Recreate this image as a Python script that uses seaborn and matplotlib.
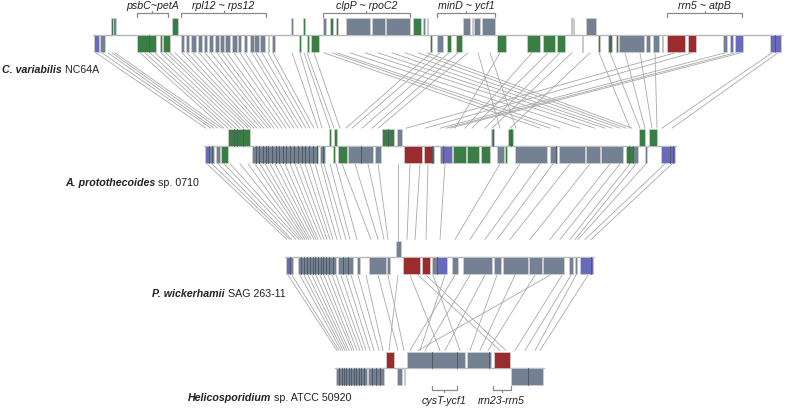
import matplotlib
matplotlib.use("Agg")
import matplotlib.pyplot as plt
import seaborn as sns
import pandas as pd

# ---------------- data ----------------
# genome tracks: species names
species_bold = ["C. variabilis", "A. protothecoides", "P. wickerhamii", "Helicosporidium"]
species_rest = [" NC64A", " sp. 0710", " SAG 263-11", " sp. ATCC 50920"]

# track extents (genome coordinate, scaled)
track_start = [93, 204, 285, 335]
track_end = [782, 676, 594, 544]

# gene blocks per track: (start, end, strand, class)  g=grey, G=green, r=red(rRNA), b=blue
t1_blocks = [
    (94, 98.5, -1, "b"), (99.5, 105, -1, "g"), (136.5, 149.3, -1, "G"), (149.3, 155.5, -1, "G"),
    (160, 162, -1, "G"), (163.3, 169.5, -1, "G"),
    (180.5, 183.5, -1, "g"), (185.5, 188.5, -1, "g"), (191, 195.5, -1, "g"), (197.5, 201.5, -1, "g"),
    (203.5, 207, -1, "g"), (209, 213, -1, "g"), (215, 218.5, -1, "g"), (219.5, 223.5, -1, "g"),
    (225, 229.5, -1, "g"), (231.5, 236.5, -1, "g"), (238, 241, -1, "g"), (243.5, 247, -1, "g"),
    (250, 253.5, -1, "g"), (254, 258.5, -1, "g"), (260, 265, -1, "g"), (267.5, 268.8, -1, "G"),
    (271.5, 275, -1, "g"),
    (299, 301, -1, "G"), (306.5, 308.5, -1, "G"), (310.5, 318.5, -1, "G"),
    (430, 432, -1, "G"), (437.3, 443.3, -1, "g"), (446.7, 450.7, -1, "G"), (456, 461.7, -1, "G"),
    (496.7, 505.7, -1, "G"), (527.3, 540, -1, "G"), (543.3, 555, -1, "G"), (556.7, 565, -1, "G"),
    (581.7, 583.3, -1, "g"), (598.3, 600, -1, "G"), (608.3, 610, -1, "G"), (610, 611.7, -1, "G"),
    (616, 617.7, -1, "G"), (618.7, 644, -1, "g"), (646, 650, -1, "g"), (652.7, 659.3, -1, "g"),
    (661.7, 663.3, -1, "G"), (667.3, 685, -1, "r"), (687.7, 696, -1, "r"), (723.3, 727.3, -1, "g"),
    (730, 733.3, -1, "b"), (735, 742.7, -1, "b"), (770, 775, -1, "b"), (775, 780.7, -1, "b"),
    (110.7, 112.7, 1, "G"), (113.3, 116.3, 1, "g"), (172.3, 178, 1, "G"), (291, 292.7, 1, "g"),
    (303, 304.7, 1, "G"), (322.7, 326, 1, "g"), (330, 333.3, 1, "G"), (335.7, 338.3, 1, "G"),
    (346, 370, 1, "g"), (371.7, 384.5, 1, "g"), (385.5, 410, 1, "g"), (413.3, 421.3, 1, "G"),
    (423.3, 425.3, 1, "g"), (426.7, 428.3, 1, "g"), (462.7, 470, 1, "g"), (471.7, 473.3, 1, "g"),
    (474.3, 480, 1, "g"), (481.7, 495, 1, "g"), (570.7, 572, 1, "G"), (572.5, 574, 1, "g"),
    (586, 596, 1, "g"),
]
t2_blocks = [
    (205, 209, -1, "b"), (209, 211.5, -1, "g"), (211.5, 214.3, -1, "g"), (215.7, 220, -1, "g"),
    (221, 227.7, -1, "G"),
    (252.3, 256, -1, "g"), (256, 259, -1, "g"), (259, 262.5, -1, "g"), (262.5, 266, -1, "g"),
    (266, 268, -1, "g"), (268, 272, -1, "g"), (272, 275.5, -1, "g"), (275.5, 279, -1, "g"),
    (279, 283, -1, "g"), (283, 286, -1, "g"), (286, 290, -1, "g"), (290, 294, -1, "g"),
    (294, 298, -1, "g"), (298, 301.5, -1, "g"), (301.5, 305, -1, "g"), (305, 309, -1, "g"),
    (309, 313, -1, "g"), (313, 316.5, -1, "g"), (316.5, 318.3, -1, "G"), (320, 322.5, -1, "g"),
    (322.5, 325, -1, "g"),
    (332.7, 335, -1, "G"), (337.7, 346.7, -1, "G"), (348.3, 361, -1, "g"), (361, 373.3, -1, "g"),
    (375, 381, -1, "g"), (404.3, 421.7, -1, "r"), (423.7, 432.3, -1, "r"), (432.3, 434, -1, "G"),
    (440, 443.3, -1, "g"), (443.3, 451.7, -1, "b"), (453.3, 466, -1, "G"), (466.7, 479.3, -1, "G"),
    (480.7, 490, -1, "G"), (497.3, 504, -1, "g"), (505, 506.7, -1, "G"), (515, 547.3, -1, "g"),
    (550, 555.5, -1, "g"), (555.5, 557.3, -1, "G"), (559.3, 585, -1, "g"), (585.7, 600, -1, "g"),
    (600.7, 622.7, -1, "g"), (626, 629, -1, "G"), (629, 633.3, -1, "G"), (633.3, 638.3, -1, "g"),
    (645, 646.7, -1, "g"), (660.7, 670, -1, "b"), (670, 673, -1, "b"), (673, 675, -1, "b"),
    (228.3, 233.5, 1, "G"), (233.5, 236.7, 1, "G"), (236.7, 243, 1, "G"), (243, 250, 1, "G"),
    (329, 331, 1, "G"), (334.3, 336.7, 1, "G"), (381.7, 388, 1, "G"), (388, 394.3, 1, "G"),
    (397, 401.7, 1, "g"), (490.7, 492.5, 1, "g"), (492.5, 494.3, 1, "G"), (508.3, 510.5, 1, "G"),
    (510.5, 513.3, 1, "G"), (639.3, 645, 1, "G"), (649.3, 657.3, 1, "G"),
]
t3_blocks = [
    (285.7, 289.5, -1, "b"), (289.5, 293.3, -1, "g"),
    (298.3, 301, -1, "g"), (301, 304, -1, "g"), (304, 307, -1, "g"), (307, 310, -1, "g"),
    (310, 312.5, -1, "g"), (312.5, 315, -1, "g"), (315, 318, -1, "g"), (318, 320.5, -1, "g"),
    (320.5, 323, -1, "g"), (323, 326, -1, "g"), (326, 329, -1, "g"), (329, 332.5, -1, "g"),
    (332.5, 336, -1, "g"), (338.3, 343, -1, "g"), (343, 348, -1, "g"), (348, 353.3, -1, "g"),
    (356.7, 360, -1, "g"), (369, 386, -1, "g"), (387.3, 390, -1, "g"),
    (403.3, 420, -1, "r"), (422.3, 430, -1, "r"), (431.7, 436.7, -1, "g"), (436.7, 447.3, -1, "b"),
    (451.7, 458.3, -1, "g"), (463.3, 491.7, -1, "g"), (494, 500.7, -1, "g"), (503.3, 528.3, -1, "g"),
    (529, 542.3, -1, "g"), (543, 564.3, -1, "g"), (569.3, 572.7, -1, "g"), (575, 576.7, -1, "g"),
    (580, 591, -1, "b"), (591, 593.3, -1, "b"),
    (396, 400.7, 1, "g"),
]
t4_blocks = [
    (336, 339, -1, "g"), (339, 341.5, -1, "g"), (341.5, 344, -1, "g"), (344, 346, -1, "g"),
    (346, 348.5, -1, "g"), (348.5, 351, -1, "g"), (351, 353.5, -1, "g"), (353.5, 356, -1, "g"),
    (356, 358.5, -1, "g"), (358.5, 361, -1, "g"), (361, 363.5, -1, "g"), (363.5, 366.7, -1, "g"),
    (368.3, 372, -1, "g"), (372, 376, -1, "g"), (376, 380, -1, "g"), (380, 384, -1, "g"),
    (396.7, 401.7, -1, "g"), (404, 405.3, -1, "g"), (510.7, 528.3, -1, "g"), (528.3, 543.3, -1, "g"),
    (386, 394, 1, "r"), (406.7, 431.7, 1, "g"), (431.7, 456.7, 1, "g"), (456.7, 465, 1, "g"),
    (466.7, 488.5, 1, "g"), (488.5, 490.7, 1, "g"), (494, 510, 1, "r"),
]
track_blocks = [t1_blocks, t2_blocks, t3_blocks, t4_blocks]

# syntenic links between consecutive tracks: (position in upper track, position in lower track)
links_12 = [
    (96, 206), (102, 211), (108, 214), (112, 218), (115, 222), (140, 224), (145, 228), (150, 232),
    (155, 236), (161, 240), (166, 244), (170, 248), (175, 251), (182, 254), (187, 257), (193, 261),
    (199, 264), (205, 268), (211, 271), (217, 274), (222, 278), (227, 282), (234, 286), (240, 290),
    (245, 294), (252, 298), (256, 302), (262, 306), (268, 310), (273, 314), (292, 318), (300, 322),
    (304, 330), (307, 334), (314, 340), (324, 540), (332, 550), (337, 560), (350, 580), (365, 595),
    (378, 605), (392, 612), (405, 620), (418, 626), (427, 632), (431, 346), (440, 352), (449, 362),
    (458, 372), (468, 378), (478, 500), (490, 516), (500, 455), (532, 465), (548, 472), (560, 485),
    (572, 492), (590, 510), (599, 630), (610, 640), (625, 645), (640, 652), (655, 657), (675, 406),
    (692, 425), (725, 440), (735, 446), (741, 450), (772, 662), (778, 672),
]
links_23 = [
    (207, 287), (212, 290), (218, 292), (224, 296), (230, 299), (240, 301), (248, 303), (255, 305),
    (260, 307), (265, 309), (270, 311), (275, 314), (280, 316), (285, 318), (290, 321), (295, 324),
    (300, 327), (305, 330), (310, 333), (315, 337), (321, 341), (324, 346), (330, 350), (336, 357),
    (342, 371), (355, 378), (368, 384), (378, 388), (398, 398), (410, 407), (420, 415), (428, 426),
    (445, 440), (500, 455), (520, 470), (540, 485), (553, 497), (570, 510), (590, 530), (610, 550),
    (620, 560), (630, 570), (636, 575), (646, 578), (665, 585), (672, 591),
]
links_34 = [
    (288, 337), (292, 339), (300, 341), (304, 343), (308, 345), (312, 347), (316, 349), (320, 352),
    (324, 354), (328, 357), (332, 360), (336, 363), (341, 366), (346, 370), (351, 374), (358, 379),
    (366, 383), (378, 398), (388, 404), (398, 389), (410, 440), (418, 500), (426, 506), (433, 460),
    (445, 420), (455, 410), (470, 425), (485, 445), (497, 470), (515, 480), (535, 488), (550, 418),
    (562, 515), (571, 525), (576, 535), (588, 540),
]
all_links = [links_12, links_23, links_34]

# region annotations
top_labels = ["psbC~petA", "rpl12 ~ rps12", "clpP ~ rpoC2", "minD ~ ycf1", "rrn5 ~ atpB"]
top_x0 = [136.5, 181, 322.7, 437.3, 667.3]
top_x1 = [168.3, 266, 410, 495.3, 742.3]
bottom_labels = ["cysT-ycf1", "rrn23-rrn5"]
bottom_x0 = [431.7, 492.7]
bottom_x1 = [456.7, 510.7]

# ---------------- styling / layout ----------------
sns.set_theme(style="white")
plt.rcParams["font.family"] = ["Liberation Sans", "DejaVu Sans"]

palette = {"g": "#738193", "G": "#3a7e45", "r": "#9a2c2d", "b": "#6a6abd"}
baseline_y = [35, 146, 257.3, 368.3]
block_h = 16.8
label_pos = [(2, 70), (65, 183), (152, 294), (188, 398)]

fig = plt.figure(figsize=(7.87, 4.08), dpi=100)
ax = fig.add_axes([0, 0, 1, 1])

# links (seaborn lineplot, one unit per link)
rows = []
lid = 0
for k, links in enumerate(all_links):
    y_top = baseline_y[k] + block_h + 1.0
    y_bot = baseline_y[k + 1] - block_h - 1.0
    for xa, xb in links:
        rows.append({"id": lid, "x": xa, "y": y_top})
        rows.append({"id": lid, "x": xb, "y": y_bot})
        lid += 1
df_links = pd.DataFrame(rows)
sns.lineplot(data=df_links, x="x", y="y", units="id", estimator=None, sort=False,
             color="#a9a9a9", lw=0.6, ax=ax, legend=False, zorder=1)

# baselines and blocks
for k, blocks in enumerate(track_blocks):
    yb = baseline_y[k]
    ax.plot([track_start[k], track_end[k]], [yb, yb], color="#b4b4b4", lw=1.0, zorder=2)
    df = pd.DataFrame(blocks, columns=["start", "end", "strand", "cls"])
    bottoms = [yb - block_h if s > 0 else yb for s in df["strand"]]
    ax.bar(df["start"], [block_h] * len(df), width=df["end"] - df["start"], bottom=bottoms,
           align="edge", color=[palette[c] for c in df["cls"]], edgecolor="#d0d0d0",
           linewidth=0.5, zorder=3)
    # dark dividers between directly adjacent genes
    for s in (1, -1):
        sub = df[df["strand"] == s].sort_values("start").reset_index(drop=True)
        for i in range(len(sub) - 1):
            if abs(sub.loc[i, "end"] - sub.loc[i + 1, "start"]) < 0.05:
                y0 = yb - block_h if s > 0 else yb
                ax.plot([sub.loc[i, "end"]] * 2, [y0, y0 + block_h], color="#3b4652",
                        lw=0.6, zorder=4)

# species labels
for (x, y), b, r in zip(label_pos, species_bold, species_rest):
    t = ax.text(x, y, b, fontsize=7.7, fontweight="bold", fontstyle="italic",
                ha="left", va="center", color="#222222")
    ax.annotate(r, xy=(1, 0.5), xycoords=t, va="center", ha="left", fontsize=7.7,
                color="#222222")

# region brackets (top)
for lab, x0, x1 in zip(top_labels, top_x0, top_x1):
    ax.plot([x0, x0, x1, x1], [17, 13, 13, 17], color="#8a8a8a", lw=0.9)
    ax.plot([(x0 + x1) / 2] * 2, [13, 11], color="#8a8a8a", lw=0.9)
    ax.text((x0 + x1) / 2, 6, lab, fontsize=7.7, fontstyle="italic", ha="center",
            va="center", color="#222222")

# region brackets (bottom)
for lab, x0, x1 in zip(bottom_labels, bottom_x0, bottom_x1):
    ax.plot([x0, x0, x1, x1], [386, 390, 390, 386], color="#8a8a8a", lw=0.9)
    ax.plot([(x0 + x1) / 2] * 2, [390, 392], color="#8a8a8a", lw=0.9)
    ax.text((x0 + x1) / 2, 401, lab, fontsize=7.7, fontstyle="italic", ha="center",
            va="center", color="#222222")

ax.set_xlim(0, 787)
ax.set_ylim(408, 0)
ax.set_axis_off()
fig.savefig("out.png", dpi=100)
